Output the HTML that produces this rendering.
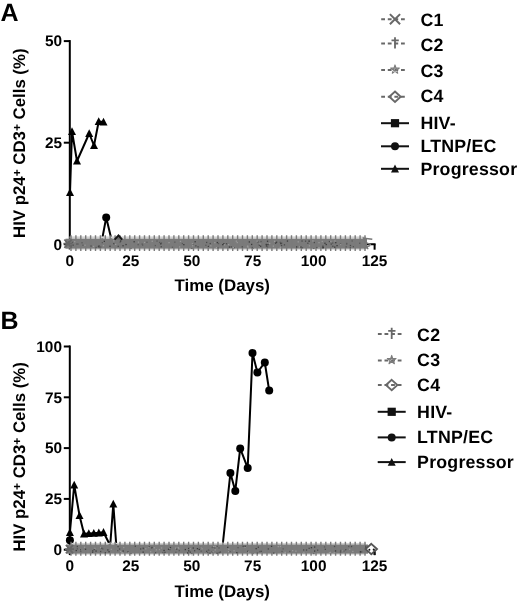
<!DOCTYPE html>
<html><head><meta charset="utf-8"><style>
html,body{margin:0;padding:0;background:#fff;}
svg{display:block;font-family:"Liberation Sans", sans-serif;will-change:transform;text-rendering:geometricPrecision;}
</style></head><body>
<svg width="520" height="608" viewBox="0 0 520 608" font-family='"Liberation Sans", sans-serif'>
<text x="0.5" y="21.4" font-size="25" font-weight="bold">A</text>
<path d="M69.8 40.10V244.30" stroke="#000" stroke-width="2" fill="none"/>
<path d="M63.8 244.30H70" stroke="#000" stroke-width="2"/>
<text x="62" y="249.50" font-size="15.4" font-weight="bold" text-anchor="end">0</text>
<path d="M63.8 142.70H70" stroke="#000" stroke-width="2"/>
<text x="62" y="147.90" font-size="15.4" font-weight="bold" text-anchor="end">25</text>
<path d="M63.8 41.10H70" stroke="#000" stroke-width="2"/>
<text x="62" y="46.30" font-size="15.4" font-weight="bold" text-anchor="end">50</text>
<path d="M69 244.30H375.60" stroke="#000" stroke-width="2" fill="none"/>
<path d="M69.80 244.30V249.70" stroke="#000" stroke-width="2"/>
<text x="69.80" y="265.7" font-size="15.4" font-weight="bold" text-anchor="middle">0</text>
<path d="M130.76 244.30V249.70" stroke="#000" stroke-width="2"/>
<text x="130.76" y="265.7" font-size="15.4" font-weight="bold" text-anchor="middle">25</text>
<path d="M191.72 244.30V249.70" stroke="#000" stroke-width="2"/>
<text x="191.72" y="265.7" font-size="15.4" font-weight="bold" text-anchor="middle">50</text>
<path d="M252.68 244.30V249.70" stroke="#000" stroke-width="2"/>
<text x="252.68" y="265.7" font-size="15.4" font-weight="bold" text-anchor="middle">75</text>
<path d="M313.64 244.30V249.70" stroke="#000" stroke-width="2"/>
<text x="313.64" y="265.7" font-size="15.4" font-weight="bold" text-anchor="middle">100</text>
<path d="M374.60 244.30V249.70" stroke="#000" stroke-width="2"/>
<text x="374.60" y="265.7" font-size="15.4" font-weight="bold" text-anchor="middle">125</text>
<text x="222.25" y="290.7" font-size="16.9" font-weight="bold" text-anchor="middle">Time (Days)</text>
<text transform="translate(24.8,143.2) rotate(-90)" font-size="16.8" font-weight="bold" text-anchor="middle">HIV p24<tspan font-size="12" dy="-3.8">+</tspan><tspan dy="3.8"> CD3</tspan><tspan font-size="12" dy="-3.8">+</tspan><tspan dy="3.8"> Cells (%)</tspan></text>
<path d="M381.20 19.20H405.00" stroke="#686868" stroke-width="2" stroke-dasharray="3.8 2.8"/>
<path d="M389.90 14.10L400.10 24.30M400.10 14.10L389.90 24.30" stroke="#686868" stroke-width="2" fill="none"/>
<text x="420.40" y="25.70" font-size="17.8" letter-spacing="0.2" font-weight="bold">C1</text>
<path d="M381.20 43.50H405.00" stroke="#686868" stroke-width="2" stroke-dasharray="3.8 2.8"/>
<path d="M395.00 37.20V48.50M391.50 40.30H398.80" stroke="#686868" stroke-width="1.8" fill="none"/>
<text x="420.40" y="50.80" font-size="17.8" letter-spacing="0.2" font-weight="bold">C2</text>
<path d="M381.20 69.90H405.00" stroke="#686868" stroke-width="2" stroke-dasharray="3.8 2.8"/>
<polygon points="395.00,64.90 397.70,73.22 390.63,68.08 399.37,68.08 392.30,73.22" fill="none" stroke="#7c7c7c" stroke-width="1.1" stroke-linejoin="round"/>
<text x="420.40" y="77.10" font-size="17.8" letter-spacing="0.2" font-weight="bold">C3</text>
<path d="M381.20 96.70H405.00" stroke="#686868" stroke-width="2" stroke-dasharray="3.8 2.8"/>
<path d="M395.00 91.50L400.70 96.70L395.00 101.90L389.30 96.70Z" fill="none" stroke="#686868" stroke-width="1.9"/>
<text x="420.40" y="102.40" font-size="17.8" letter-spacing="0.2" font-weight="bold">C4</text>
<path d="M381.00 123.20H409.00" stroke="#111" stroke-width="2"/>
<rect x="390.90" y="119.10" width="8.2" height="8.2" fill="#111"/>
<text x="420.40" y="129.10" font-size="17.8" letter-spacing="0.2" font-weight="bold">HIV-</text>
<path d="M381.00 146.30H409.00" stroke="#111" stroke-width="2"/>
<circle cx="395.00" cy="146.30" r="4" fill="#111"/>
<text x="420.40" y="152.40" font-size="17.8" letter-spacing="0.2" font-weight="bold">LTNP/EC</text>
<path d="M381.00 168.80H409.00" stroke="#111" stroke-width="2"/>
<path d="M395.00 164.60 L399.00 172.40 L391.00 172.40Z" fill="#111"/>
<text x="420.40" y="175.40" font-size="17.8" letter-spacing="0.2" font-weight="bold">Progressor</text>
<text x="0.5" y="329.2" font-size="25" font-weight="bold">B</text>
<path d="M69.8 345.50V549.70" stroke="#000" stroke-width="2" fill="none"/>
<path d="M63.8 549.70H70" stroke="#000" stroke-width="2"/>
<text x="62" y="554.90" font-size="15.4" font-weight="bold" text-anchor="end">0</text>
<path d="M63.8 498.90H70" stroke="#000" stroke-width="2"/>
<text x="62" y="504.10" font-size="15.4" font-weight="bold" text-anchor="end">25</text>
<path d="M63.8 448.10H70" stroke="#000" stroke-width="2"/>
<text x="62" y="453.30" font-size="15.4" font-weight="bold" text-anchor="end">50</text>
<path d="M63.8 397.30H70" stroke="#000" stroke-width="2"/>
<text x="62" y="402.50" font-size="15.4" font-weight="bold" text-anchor="end">75</text>
<path d="M63.8 346.50H70" stroke="#000" stroke-width="2"/>
<text x="62" y="351.70" font-size="15.4" font-weight="bold" text-anchor="end">100</text>
<path d="M69 549.70H375.60" stroke="#000" stroke-width="2" fill="none"/>
<path d="M69.80 549.70V555.10" stroke="#000" stroke-width="2"/>
<text x="69.80" y="570.8" font-size="15.4" font-weight="bold" text-anchor="middle">0</text>
<path d="M130.76 549.70V555.10" stroke="#000" stroke-width="2"/>
<text x="130.76" y="570.8" font-size="15.4" font-weight="bold" text-anchor="middle">25</text>
<path d="M191.72 549.70V555.10" stroke="#000" stroke-width="2"/>
<text x="191.72" y="570.8" font-size="15.4" font-weight="bold" text-anchor="middle">50</text>
<path d="M252.68 549.70V555.10" stroke="#000" stroke-width="2"/>
<text x="252.68" y="570.8" font-size="15.4" font-weight="bold" text-anchor="middle">75</text>
<path d="M313.64 549.70V555.10" stroke="#000" stroke-width="2"/>
<text x="313.64" y="570.8" font-size="15.4" font-weight="bold" text-anchor="middle">100</text>
<path d="M374.60 549.70V555.10" stroke="#000" stroke-width="2"/>
<text x="374.60" y="570.8" font-size="15.4" font-weight="bold" text-anchor="middle">125</text>
<text x="222.25" y="597.2" font-size="16.9" font-weight="bold" text-anchor="middle">Time (Days)</text>
<text transform="translate(25.0,456.9) rotate(-90)" font-size="16.8" font-weight="bold" text-anchor="middle">HIV p24<tspan font-size="12" dy="-3.8">+</tspan><tspan dy="3.8"> CD3</tspan><tspan font-size="12" dy="-3.8">+</tspan><tspan dy="3.8"> Cells (%)</tspan></text>
<path d="M377.90 334.10H401.70" stroke="#686868" stroke-width="2" stroke-dasharray="3.8 2.8"/>
<path d="M391.70 327.80V339.10M388.20 330.90H395.50" stroke="#686868" stroke-width="1.8" fill="none"/>
<text x="417.10" y="341.10" font-size="17.8" letter-spacing="0.2" font-weight="bold">C2</text>
<path d="M377.90 360.40H401.70" stroke="#686868" stroke-width="2" stroke-dasharray="3.8 2.8"/>
<polygon points="391.70,355.40 394.40,363.72 387.33,358.58 396.07,358.58 389.00,363.72" fill="none" stroke="#7c7c7c" stroke-width="1.1" stroke-linejoin="round"/>
<text x="417.10" y="366.10" font-size="17.8" letter-spacing="0.2" font-weight="bold">C3</text>
<path d="M377.90 385.10H401.70" stroke="#686868" stroke-width="2" stroke-dasharray="3.8 2.8"/>
<path d="M391.70 379.90L397.40 385.10L391.70 390.30L386.00 385.10Z" fill="none" stroke="#686868" stroke-width="1.9"/>
<text x="417.10" y="390.80" font-size="17.8" letter-spacing="0.2" font-weight="bold">C4</text>
<path d="M377.70 411.80H405.70" stroke="#111" stroke-width="2"/>
<rect x="387.60" y="407.70" width="8.2" height="8.2" fill="#111"/>
<text x="417.10" y="418.40" font-size="17.8" letter-spacing="0.2" font-weight="bold">HIV-</text>
<path d="M377.70 437.40H405.70" stroke="#111" stroke-width="2"/>
<circle cx="391.70" cy="437.40" r="4" fill="#111"/>
<text x="417.10" y="443.10" font-size="17.8" letter-spacing="0.2" font-weight="bold">LTNP/EC</text>
<path d="M377.70 462.10H405.70" stroke="#111" stroke-width="2"/>
<path d="M391.70 457.90 L395.70 465.70 L387.70 465.70Z" fill="#111"/>
<text x="417.10" y="467.80" font-size="17.8" letter-spacing="0.2" font-weight="bold">Progressor</text>
<polyline points="70,192.5 72,131.5 77,161 89.2,133.5 94,145.5 98.7,121.5 103.5,122" fill="none" stroke="#000" stroke-width="2" stroke-linejoin="round"/>
<path d="M70.00 188.30 L74.00 196.10 L66.00 196.10Z" fill="#000"/>
<path d="M72.00 127.30 L76.00 135.10 L68.00 135.10Z" fill="#000"/>
<path d="M77.00 156.80 L81.00 164.60 L73.00 164.60Z" fill="#000"/>
<path d="M89.20 129.30 L93.20 137.10 L85.20 137.10Z" fill="#000"/>
<path d="M94.00 141.30 L98.00 149.10 L90.00 149.10Z" fill="#000"/>
<path d="M98.70 117.30 L102.70 125.10 L94.70 125.10Z" fill="#000"/>
<path d="M103.50 117.80 L107.50 125.60 L99.50 125.60Z" fill="#000"/>
<polyline points="102,240 106.2,217.6 111.6,240" fill="none" stroke="#000" stroke-width="2"/>
<circle cx="106.20" cy="217.60" r="4" fill="#000"/>
<polyline points="69.9,532.5 74.2,485.0 79.5,515.4 84.0,533.8 88.8,533.5 93.8,533.2 98.8,532.8 103.5,532.3 110.2,545.5 113.3,504 116.3,545.5" fill="none" stroke="#000" stroke-width="2" stroke-linejoin="round"/>
<path d="M69.90 528.30 L73.90 536.10 L65.90 536.10Z" fill="#000"/>
<path d="M74.20 480.80 L78.20 488.60 L70.20 488.60Z" fill="#000"/>
<path d="M79.50 511.20 L83.50 519.00 L75.50 519.00Z" fill="#000"/>
<path d="M84.00 529.60 L88.00 537.40 L80.00 537.40Z" fill="#000"/>
<path d="M88.80 529.30 L92.80 537.10 L84.80 537.10Z" fill="#000"/>
<path d="M93.80 529.00 L97.80 536.80 L89.80 536.80Z" fill="#000"/>
<path d="M98.80 528.60 L102.80 536.40 L94.80 536.40Z" fill="#000"/>
<path d="M103.50 528.10 L107.50 535.90 L99.50 535.90Z" fill="#000"/>
<path d="M113.30 499.80 L117.30 507.60 L109.30 507.60Z" fill="#000"/>
<circle cx="69.90" cy="540.20" r="4" fill="#000"/>
<polyline points="222.8,544 230.4,473.1 235.3,490.9 240.2,448.4 247.7,468.1 252.5,353.1 257.4,372.4 264.8,362.5 269.2,390.6" fill="none" stroke="#000" stroke-width="2" stroke-linejoin="round"/>
<circle cx="230.40" cy="473.10" r="4" fill="#000"/>
<circle cx="235.30" cy="490.90" r="4" fill="#000"/>
<circle cx="240.20" cy="448.40" r="4" fill="#000"/>
<circle cx="247.70" cy="468.10" r="4" fill="#000"/>
<circle cx="252.50" cy="353.10" r="4" fill="#000"/>
<circle cx="257.40" cy="372.40" r="4" fill="#000"/>
<circle cx="264.80" cy="362.50" r="4" fill="#000"/>
<circle cx="269.20" cy="390.60" r="4" fill="#000"/>
<rect x="69.5" y="236.40" width="296.50" height="2.30" fill="#d2d2d2"/>
<rect x="69.5" y="248.70" width="296.50" height="1.40" fill="#dcdcdc"/>
<rect x="65.5" y="238.70" width="301.50" height="10.0" fill="#7b7b7b"/>
<path d="M71.00 235.20V250.90M75.90 235.20V250.90M80.80 235.20V250.90M85.70 235.20V250.90M90.60 235.20V250.90M95.50 235.20V250.90M100.40 235.20V250.90M105.30 235.20V250.90M110.20 235.20V250.90M115.10 235.20V250.90M120.00 235.20V250.90M124.90 235.20V250.90M129.80 235.20V250.90M134.70 235.20V250.90M139.60 235.20V250.90M144.50 235.20V250.90M149.40 235.20V250.90M154.30 235.20V250.90M159.20 235.20V250.90M164.10 235.20V250.90M169.00 235.20V250.90M173.90 235.20V250.90M178.80 235.20V250.90M183.70 235.20V250.90M188.60 235.20V250.90M193.50 235.20V250.90M198.40 235.20V250.90M203.30 235.20V250.90M208.20 235.20V250.90M213.10 235.20V250.90M218.00 235.20V250.90M222.90 235.20V250.90M227.80 235.20V250.90M232.70 235.20V250.90M237.60 235.20V250.90M242.50 235.20V250.90M247.40 235.20V250.90M252.30 235.20V250.90M257.20 235.20V250.90M262.10 235.20V250.90M267.00 235.20V250.90M271.90 235.20V250.90M276.80 235.20V250.90M281.70 235.20V250.90M286.60 235.20V250.90M291.50 235.20V250.90M296.40 235.20V250.90M301.30 235.20V250.90M306.20 235.20V250.90M311.10 235.20V250.90M316.00 235.20V250.90M320.90 235.20V250.90M325.80 235.20V250.90M330.70 235.20V250.90M335.60 235.20V250.90M340.50 235.20V250.90M345.40 235.20V250.90M350.30 235.20V250.90M355.20 235.20V250.90M360.10 235.20V250.90M365.00 235.20V250.90" stroke="#7a7a7a" stroke-width="1.4"/>
<rect x="137.5" y="244.0" width="1.3" height="1.3" fill="#5a5a5a"/><rect x="339.9" y="243.5" width="1.3" height="1.3" fill="#3a3a3a"/><rect x="247.3" y="246.6" width="1.3" height="1.3" fill="#9a9a9a"/><rect x="143.9" y="241.8" width="1.3" height="1.3" fill="#9a9a9a"/><rect x="228.0" y="244.0" width="1.3" height="1.3" fill="#9a9a9a"/><rect x="257.3" y="241.3" width="1.3" height="1.3" fill="#4a4a4a"/><rect x="325.6" y="243.9" width="1.3" height="1.3" fill="#3a3a3a"/><rect x="266.9" y="240.6" width="1.3" height="1.3" fill="#3a3a3a"/><rect x="156.4" y="240.4" width="1.3" height="1.3" fill="#5a5a5a"/><rect x="207.6" y="245.2" width="1.3" height="1.3" fill="#9a9a9a"/><rect x="279.7" y="246.6" width="1.3" height="1.3" fill="#9a9a9a"/><rect x="283.8" y="244.2" width="1.3" height="1.3" fill="#4a4a4a"/><rect x="328.8" y="240.9" width="1.3" height="1.3" fill="#4a4a4a"/><rect x="214.2" y="242.0" width="1.3" height="1.3" fill="#9a9a9a"/><rect x="299.0" y="246.2" width="1.3" height="1.3" fill="#9a9a9a"/><rect x="217.9" y="242.9" width="1.3" height="1.3" fill="#5a5a5a"/><rect x="225.9" y="243.1" width="1.3" height="1.3" fill="#4a4a4a"/><rect x="336.4" y="245.0" width="1.3" height="1.3" fill="#3a3a3a"/><rect x="322.1" y="247.1" width="1.3" height="1.3" fill="#4a4a4a"/><rect x="275.0" y="242.5" width="1.3" height="1.3" fill="#3a3a3a"/><rect x="279.6" y="241.7" width="1.3" height="1.3" fill="#5a5a5a"/><rect x="151.6" y="240.6" width="1.3" height="1.3" fill="#9a9a9a"/><rect x="92.9" y="245.8" width="1.3" height="1.3" fill="#9a9a9a"/><rect x="334.3" y="240.3" width="1.3" height="1.3" fill="#9a9a9a"/><rect x="296.0" y="246.3" width="1.3" height="1.3" fill="#3a3a3a"/><rect x="247.1" y="245.5" width="1.3" height="1.3" fill="#9a9a9a"/><rect x="281.0" y="242.5" width="1.3" height="1.3" fill="#5a5a5a"/><rect x="217.4" y="247.2" width="1.3" height="1.3" fill="#5a5a5a"/><rect x="68.7" y="241.0" width="1.3" height="1.3" fill="#3a3a3a"/><rect x="349.7" y="247.0" width="1.3" height="1.3" fill="#5a5a5a"/><rect x="248.7" y="241.3" width="1.3" height="1.3" fill="#3a3a3a"/><rect x="359.0" y="242.6" width="1.3" height="1.3" fill="#5a5a5a"/><rect x="352.7" y="246.5" width="1.3" height="1.3" fill="#9a9a9a"/><rect x="179.0" y="246.3" width="1.3" height="1.3" fill="#9a9a9a"/><rect x="258.7" y="244.4" width="1.3" height="1.3" fill="#3a3a3a"/><rect x="251.6" y="246.8" width="1.3" height="1.3" fill="#5a5a5a"/><rect x="195.2" y="245.2" width="1.3" height="1.3" fill="#4a4a4a"/><rect x="346.0" y="243.3" width="1.3" height="1.3" fill="#5a5a5a"/><rect x="222.1" y="244.0" width="1.3" height="1.3" fill="#3a3a3a"/><rect x="301.8" y="247.1" width="1.3" height="1.3" fill="#5a5a5a"/><rect x="72.5" y="244.5" width="1.3" height="1.3" fill="#4a4a4a"/><rect x="84.4" y="244.6" width="1.3" height="1.3" fill="#9a9a9a"/><rect x="171.8" y="246.6" width="1.3" height="1.3" fill="#5a5a5a"/><rect x="286.8" y="240.4" width="1.3" height="1.3" fill="#3a3a3a"/><rect x="351.5" y="240.3" width="1.3" height="1.3" fill="#5a5a5a"/><rect x="141.5" y="243.4" width="1.3" height="1.3" fill="#5a5a5a"/><rect x="119.5" y="241.5" width="1.3" height="1.3" fill="#5a5a5a"/><rect x="318.4" y="242.0" width="1.3" height="1.3" fill="#9a9a9a"/><rect x="97.8" y="245.9" width="1.3" height="1.3" fill="#4a4a4a"/><rect x="159.0" y="241.8" width="1.3" height="1.3" fill="#5a5a5a"/><rect x="137.8" y="241.5" width="1.3" height="1.3" fill="#9a9a9a"/><rect x="260.4" y="240.9" width="1.3" height="1.3" fill="#5a5a5a"/><rect x="349.8" y="244.9" width="1.3" height="1.3" fill="#4a4a4a"/><rect x="197.4" y="246.2" width="1.3" height="1.3" fill="#4a4a4a"/><rect x="90.4" y="245.4" width="1.3" height="1.3" fill="#4a4a4a"/><rect x="330.6" y="243.4" width="1.3" height="1.3" fill="#4a4a4a"/><rect x="301.4" y="240.4" width="1.3" height="1.3" fill="#4a4a4a"/><rect x="160.6" y="246.1" width="1.3" height="1.3" fill="#4a4a4a"/><rect x="324.3" y="242.6" width="1.3" height="1.3" fill="#3a3a3a"/><rect x="307.2" y="242.6" width="1.3" height="1.3" fill="#4a4a4a"/><rect x="192.2" y="243.8" width="1.3" height="1.3" fill="#5a5a5a"/><rect x="205.2" y="244.6" width="1.3" height="1.3" fill="#5a5a5a"/><rect x="191.8" y="243.1" width="1.3" height="1.3" fill="#9a9a9a"/><rect x="113.1" y="240.2" width="1.3" height="1.3" fill="#9a9a9a"/><rect x="233.3" y="247.1" width="1.3" height="1.3" fill="#4a4a4a"/><rect x="76.1" y="243.4" width="1.3" height="1.3" fill="#5a5a5a"/><rect x="228.8" y="246.4" width="1.3" height="1.3" fill="#3a3a3a"/><rect x="322.6" y="247.0" width="1.3" height="1.3" fill="#3a3a3a"/><rect x="308.3" y="240.5" width="1.3" height="1.3" fill="#4a4a4a"/><rect x="334.1" y="246.5" width="1.3" height="1.3" fill="#3a3a3a"/><rect x="70.4" y="245.4" width="1.3" height="1.3" fill="#4a4a4a"/><rect x="216.7" y="241.9" width="1.3" height="1.3" fill="#3a3a3a"/><rect x="223.2" y="243.1" width="1.3" height="1.3" fill="#3a3a3a"/><rect x="168.4" y="242.0" width="1.3" height="1.3" fill="#9a9a9a"/><rect x="308.7" y="240.6" width="1.3" height="1.3" fill="#4a4a4a"/><rect x="125.4" y="243.9" width="1.3" height="1.3" fill="#3a3a3a"/><rect x="117.6" y="245.7" width="1.3" height="1.3" fill="#4a4a4a"/><rect x="312.3" y="240.3" width="1.3" height="1.3" fill="#9a9a9a"/><rect x="81.4" y="242.1" width="1.3" height="1.3" fill="#5a5a5a"/><rect x="251.0" y="243.8" width="1.3" height="1.3" fill="#3a3a3a"/><rect x="207.7" y="245.6" width="1.3" height="1.3" fill="#3a3a3a"/><rect x="322.3" y="245.6" width="1.3" height="1.3" fill="#3a3a3a"/><rect x="103.7" y="240.7" width="1.3" height="1.3" fill="#3a3a3a"/><rect x="321.6" y="240.8" width="1.3" height="1.3" fill="#9a9a9a"/><rect x="160.8" y="242.4" width="1.3" height="1.3" fill="#5a5a5a"/><rect x="181.7" y="242.9" width="1.3" height="1.3" fill="#5a5a5a"/><rect x="174.2" y="241.5" width="1.3" height="1.3" fill="#5a5a5a"/><rect x="194.5" y="241.1" width="1.3" height="1.3" fill="#3a3a3a"/><rect x="280.2" y="242.9" width="1.3" height="1.3" fill="#3a3a3a"/><rect x="235.7" y="240.5" width="1.3" height="1.3" fill="#9a9a9a"/><rect x="246.9" y="245.7" width="1.3" height="1.3" fill="#9a9a9a"/><rect x="256.5" y="240.5" width="1.3" height="1.3" fill="#9a9a9a"/><rect x="82.3" y="244.6" width="1.3" height="1.3" fill="#5a5a5a"/><rect x="192.0" y="245.1" width="1.3" height="1.3" fill="#9a9a9a"/><rect x="71.9" y="241.7" width="1.3" height="1.3" fill="#5a5a5a"/><rect x="274.0" y="240.7" width="1.3" height="1.3" fill="#9a9a9a"/><rect x="133.5" y="241.1" width="1.3" height="1.3" fill="#3a3a3a"/><rect x="346.0" y="242.8" width="1.3" height="1.3" fill="#5a5a5a"/><rect x="102.8" y="245.0" width="1.3" height="1.3" fill="#9a9a9a"/><rect x="265.8" y="245.3" width="1.3" height="1.3" fill="#3a3a3a"/><rect x="308.8" y="245.2" width="1.3" height="1.3" fill="#9a9a9a"/><rect x="109.3" y="245.6" width="1.3" height="1.3" fill="#3a3a3a"/><rect x="223.9" y="244.2" width="1.3" height="1.3" fill="#9a9a9a"/><rect x="120.0" y="240.4" width="1.3" height="1.3" fill="#3a3a3a"/><rect x="74.1" y="241.0" width="1.3" height="1.3" fill="#9a9a9a"/><rect x="316.1" y="246.9" width="1.3" height="1.3" fill="#5a5a5a"/><rect x="304.9" y="240.5" width="1.3" height="1.3" fill="#4a4a4a"/><rect x="98.4" y="245.4" width="1.3" height="1.3" fill="#3a3a3a"/><rect x="230.7" y="246.3" width="1.3" height="1.3" fill="#4a4a4a"/><rect x="313.7" y="241.9" width="1.3" height="1.3" fill="#4a4a4a"/><rect x="259.3" y="243.4" width="1.3" height="1.3" fill="#9a9a9a"/><rect x="142.0" y="244.4" width="1.3" height="1.3" fill="#5a5a5a"/><rect x="232.7" y="247.0" width="1.3" height="1.3" fill="#9a9a9a"/><rect x="215.8" y="247.0" width="1.3" height="1.3" fill="#9a9a9a"/><rect x="318.3" y="247.0" width="1.3" height="1.3" fill="#9a9a9a"/><rect x="272.7" y="245.5" width="1.3" height="1.3" fill="#9a9a9a"/><rect x="113.1" y="243.0" width="1.3" height="1.3" fill="#4a4a4a"/><rect x="115.0" y="243.7" width="1.3" height="1.3" fill="#9a9a9a"/><rect x="340.1" y="243.8" width="1.3" height="1.3" fill="#9a9a9a"/><rect x="241.6" y="246.2" width="1.3" height="1.3" fill="#4a4a4a"/><rect x="146.3" y="241.6" width="1.3" height="1.3" fill="#5a5a5a"/><rect x="345.5" y="246.2" width="1.3" height="1.3" fill="#5a5a5a"/><rect x="266.9" y="246.2" width="1.3" height="1.3" fill="#5a5a5a"/><rect x="332.0" y="242.4" width="1.3" height="1.3" fill="#5a5a5a"/><rect x="209.6" y="242.9" width="1.3" height="1.3" fill="#4a4a4a"/><rect x="236.6" y="241.9" width="1.3" height="1.3" fill="#9a9a9a"/><rect x="297.6" y="241.2" width="1.3" height="1.3" fill="#9a9a9a"/><rect x="275.9" y="241.6" width="1.3" height="1.3" fill="#3a3a3a"/><rect x="210.2" y="245.2" width="1.3" height="1.3" fill="#9a9a9a"/><rect x="300.3" y="246.4" width="1.3" height="1.3" fill="#3a3a3a"/><rect x="206.0" y="241.8" width="1.3" height="1.3" fill="#4a4a4a"/><rect x="260.0" y="245.6" width="1.3" height="1.3" fill="#3a3a3a"/><rect x="352.7" y="246.2" width="1.3" height="1.3" fill="#4a4a4a"/><rect x="332.2" y="245.6" width="1.3" height="1.3" fill="#4a4a4a"/><rect x="122.4" y="245.1" width="1.3" height="1.3" fill="#3a3a3a"/><rect x="335.1" y="242.0" width="1.3" height="1.3" fill="#3a3a3a"/><rect x="160.1" y="243.2" width="1.3" height="1.3" fill="#3a3a3a"/><rect x="101.7" y="242.0" width="1.3" height="1.3" fill="#5a5a5a"/><rect x="77.3" y="243.4" width="1.3" height="1.3" fill="#5a5a5a"/><rect x="68.6" y="242.5" width="1.3" height="1.3" fill="#9a9a9a"/><rect x="179.8" y="240.7" width="1.3" height="1.3" fill="#9a9a9a"/><rect x="183.2" y="244.0" width="1.3" height="1.3" fill="#3a3a3a"/><rect x="330.2" y="240.7" width="1.3" height="1.3" fill="#9a9a9a"/><rect x="100.1" y="246.4" width="1.3" height="1.3" fill="#5a5a5a"/><rect x="95.4" y="246.8" width="1.3" height="1.3" fill="#5a5a5a"/><rect x="269.0" y="242.8" width="1.3" height="1.3" fill="#9a9a9a"/><rect x="154.7" y="244.9" width="1.3" height="1.3" fill="#5a5a5a"/><rect x="98.5" y="246.8" width="1.3" height="1.3" fill="#5a5a5a"/><rect x="267.3" y="244.0" width="1.3" height="1.3" fill="#3a3a3a"/><rect x="265.6" y="243.8" width="1.3" height="1.3" fill="#3a3a3a"/><rect x="280.9" y="244.9" width="1.3" height="1.3" fill="#4a4a4a"/>
<path d="M63.50 243.70H72.50M64.40 239.50L71.60 247.90M64.40 247.90L71.60 239.50" stroke="#666" stroke-width="1.8"/>
<path d="M364.00 238.20L372.30 239.20M364.00 248.20L370.00 245.70M363.00 237.20L368.00 249.20M366.00 242.70L371.00 244.70" stroke="#777" stroke-width="1.4"/>
<rect x="71.0" y="542.90" width="295.00" height="1.60" fill="#d2d2d2"/>
<rect x="71.0" y="553.70" width="295.00" height="1.20" fill="#dcdcdc"/>
<rect x="67.0" y="544.50" width="301.00" height="9.2" fill="#7b7b7b"/>
<path d="M71.00 541.70V555.70M75.90 541.70V555.70M80.80 541.70V555.70M85.70 541.70V555.70M90.60 541.70V555.70M95.50 541.70V555.70M100.40 541.70V555.70M105.30 541.70V555.70M110.20 541.70V555.70M115.10 541.70V555.70M120.00 541.70V555.70M124.90 541.70V555.70M129.80 541.70V555.70M134.70 541.70V555.70M139.60 541.70V555.70M144.50 541.70V555.70M149.40 541.70V555.70M154.30 541.70V555.70M159.20 541.70V555.70M164.10 541.70V555.70M169.00 541.70V555.70M173.90 541.70V555.70M178.80 541.70V555.70M183.70 541.70V555.70M188.60 541.70V555.70M193.50 541.70V555.70M198.40 541.70V555.70M203.30 541.70V555.70M208.20 541.70V555.70M213.10 541.70V555.70M218.00 541.70V555.70M222.90 541.70V555.70M227.80 541.70V555.70M232.70 541.70V555.70M237.60 541.70V555.70M242.50 541.70V555.70M247.40 541.70V555.70M252.30 541.70V555.70M257.20 541.70V555.70M262.10 541.70V555.70M267.00 541.70V555.70M271.90 541.70V555.70M276.80 541.70V555.70M281.70 541.70V555.70M286.60 541.70V555.70M291.50 541.70V555.70M296.40 541.70V555.70M301.30 541.70V555.70M306.20 541.70V555.70M311.10 541.70V555.70M316.00 541.70V555.70M320.90 541.70V555.70M325.80 541.70V555.70M330.70 541.70V555.70M335.60 541.70V555.70M340.50 541.70V555.70M345.40 541.70V555.70M350.30 541.70V555.70M355.20 541.70V555.70M360.10 541.70V555.70M365.00 541.70V555.70" stroke="#7a7a7a" stroke-width="1.4"/>
<rect x="260.5" y="550.7" width="1.3" height="1.3" fill="#4a4a4a"/><rect x="121.4" y="551.8" width="1.3" height="1.3" fill="#9a9a9a"/><rect x="104.7" y="552.1" width="1.3" height="1.3" fill="#4a4a4a"/><rect x="342.4" y="550.1" width="1.3" height="1.3" fill="#9a9a9a"/><rect x="233.4" y="550.1" width="1.3" height="1.3" fill="#9a9a9a"/><rect x="211.7" y="551.1" width="1.3" height="1.3" fill="#3a3a3a"/><rect x="100.0" y="546.9" width="1.3" height="1.3" fill="#9a9a9a"/><rect x="175.0" y="547.5" width="1.3" height="1.3" fill="#9a9a9a"/><rect x="83.9" y="546.6" width="1.3" height="1.3" fill="#9a9a9a"/><rect x="218.4" y="547.3" width="1.3" height="1.3" fill="#5a5a5a"/><rect x="328.8" y="552.2" width="1.3" height="1.3" fill="#9a9a9a"/><rect x="229.4" y="551.0" width="1.3" height="1.3" fill="#5a5a5a"/><rect x="216.4" y="552.6" width="1.3" height="1.3" fill="#4a4a4a"/><rect x="148.6" y="546.3" width="1.3" height="1.3" fill="#3a3a3a"/><rect x="236.2" y="552.0" width="1.3" height="1.3" fill="#3a3a3a"/><rect x="123.1" y="546.9" width="1.3" height="1.3" fill="#9a9a9a"/><rect x="267.7" y="548.3" width="1.3" height="1.3" fill="#4a4a4a"/><rect x="244.4" y="546.6" width="1.3" height="1.3" fill="#9a9a9a"/><rect x="305.9" y="549.4" width="1.3" height="1.3" fill="#4a4a4a"/><rect x="237.4" y="547.0" width="1.3" height="1.3" fill="#5a5a5a"/><rect x="178.1" y="547.7" width="1.3" height="1.3" fill="#9a9a9a"/><rect x="333.6" y="552.2" width="1.3" height="1.3" fill="#9a9a9a"/><rect x="162.2" y="551.9" width="1.3" height="1.3" fill="#5a5a5a"/><rect x="256.8" y="552.4" width="1.3" height="1.3" fill="#5a5a5a"/><rect x="334.9" y="550.3" width="1.3" height="1.3" fill="#3a3a3a"/><rect x="247.2" y="550.7" width="1.3" height="1.3" fill="#3a3a3a"/><rect x="100.0" y="550.9" width="1.3" height="1.3" fill="#4a4a4a"/><rect x="214.6" y="549.3" width="1.3" height="1.3" fill="#9a9a9a"/><rect x="127.3" y="551.1" width="1.3" height="1.3" fill="#4a4a4a"/><rect x="79.0" y="549.1" width="1.3" height="1.3" fill="#9a9a9a"/><rect x="101.2" y="547.6" width="1.3" height="1.3" fill="#4a4a4a"/><rect x="108.4" y="551.1" width="1.3" height="1.3" fill="#3a3a3a"/><rect x="75.6" y="549.9" width="1.3" height="1.3" fill="#3a3a3a"/><rect x="216.6" y="545.7" width="1.3" height="1.3" fill="#5a5a5a"/><rect x="164.3" y="551.7" width="1.3" height="1.3" fill="#4a4a4a"/><rect x="92.0" y="551.5" width="1.3" height="1.3" fill="#3a3a3a"/><rect x="281.4" y="550.8" width="1.3" height="1.3" fill="#5a5a5a"/><rect x="365.4" y="547.0" width="1.3" height="1.3" fill="#3a3a3a"/><rect x="324.7" y="548.7" width="1.3" height="1.3" fill="#4a4a4a"/><rect x="212.5" y="546.4" width="1.3" height="1.3" fill="#3a3a3a"/><rect x="189.7" y="551.5" width="1.3" height="1.3" fill="#4a4a4a"/><rect x="184.7" y="548.9" width="1.3" height="1.3" fill="#3a3a3a"/><rect x="228.2" y="548.6" width="1.3" height="1.3" fill="#9a9a9a"/><rect x="158.8" y="548.9" width="1.3" height="1.3" fill="#9a9a9a"/><rect x="198.6" y="548.8" width="1.3" height="1.3" fill="#3a3a3a"/><rect x="282.5" y="548.2" width="1.3" height="1.3" fill="#5a5a5a"/><rect x="201.4" y="548.1" width="1.3" height="1.3" fill="#9a9a9a"/><rect x="134.7" y="545.6" width="1.3" height="1.3" fill="#4a4a4a"/><rect x="145.1" y="548.2" width="1.3" height="1.3" fill="#9a9a9a"/><rect x="227.1" y="546.7" width="1.3" height="1.3" fill="#3a3a3a"/><rect x="118.9" y="548.4" width="1.3" height="1.3" fill="#4a4a4a"/><rect x="257.7" y="546.6" width="1.3" height="1.3" fill="#4a4a4a"/><rect x="199.9" y="546.9" width="1.3" height="1.3" fill="#3a3a3a"/><rect x="188.1" y="547.8" width="1.3" height="1.3" fill="#3a3a3a"/><rect x="277.6" y="546.0" width="1.3" height="1.3" fill="#9a9a9a"/><rect x="79.7" y="549.1" width="1.3" height="1.3" fill="#4a4a4a"/><rect x="140.0" y="548.3" width="1.3" height="1.3" fill="#4a4a4a"/><rect x="117.1" y="550.0" width="1.3" height="1.3" fill="#5a5a5a"/><rect x="340.0" y="549.8" width="1.3" height="1.3" fill="#5a5a5a"/><rect x="150.0" y="551.1" width="1.3" height="1.3" fill="#9a9a9a"/><rect x="303.2" y="552.3" width="1.3" height="1.3" fill="#9a9a9a"/><rect x="142.5" y="547.5" width="1.3" height="1.3" fill="#5a5a5a"/><rect x="255.5" y="548.0" width="1.3" height="1.3" fill="#3a3a3a"/><rect x="84.9" y="548.6" width="1.3" height="1.3" fill="#3a3a3a"/><rect x="244.5" y="545.6" width="1.3" height="1.3" fill="#3a3a3a"/><rect x="270.9" y="545.7" width="1.3" height="1.3" fill="#3a3a3a"/><rect x="211.6" y="546.9" width="1.3" height="1.3" fill="#5a5a5a"/><rect x="127.8" y="552.4" width="1.3" height="1.3" fill="#9a9a9a"/><rect x="169.3" y="549.0" width="1.3" height="1.3" fill="#5a5a5a"/><rect x="348.1" y="545.8" width="1.3" height="1.3" fill="#5a5a5a"/><rect x="292.0" y="550.0" width="1.3" height="1.3" fill="#9a9a9a"/><rect x="94.2" y="547.7" width="1.3" height="1.3" fill="#9a9a9a"/><rect x="102.2" y="548.3" width="1.3" height="1.3" fill="#5a5a5a"/><rect x="227.9" y="551.0" width="1.3" height="1.3" fill="#9a9a9a"/><rect x="120.0" y="550.8" width="1.3" height="1.3" fill="#9a9a9a"/><rect x="317.0" y="549.5" width="1.3" height="1.3" fill="#4a4a4a"/><rect x="176.1" y="548.5" width="1.3" height="1.3" fill="#4a4a4a"/><rect x="200.5" y="550.5" width="1.3" height="1.3" fill="#5a5a5a"/><rect x="148.3" y="546.8" width="1.3" height="1.3" fill="#9a9a9a"/><rect x="350.9" y="545.9" width="1.3" height="1.3" fill="#4a4a4a"/><rect x="279.8" y="545.8" width="1.3" height="1.3" fill="#9a9a9a"/><rect x="95.4" y="550.4" width="1.3" height="1.3" fill="#3a3a3a"/><rect x="163.4" y="549.8" width="1.3" height="1.3" fill="#3a3a3a"/><rect x="329.8" y="551.7" width="1.3" height="1.3" fill="#9a9a9a"/><rect x="207.0" y="551.7" width="1.3" height="1.3" fill="#5a5a5a"/><rect x="365.1" y="545.6" width="1.3" height="1.3" fill="#4a4a4a"/><rect x="187.0" y="552.3" width="1.3" height="1.3" fill="#3a3a3a"/><rect x="168.9" y="547.8" width="1.3" height="1.3" fill="#9a9a9a"/><rect x="92.1" y="550.1" width="1.3" height="1.3" fill="#4a4a4a"/><rect x="273.1" y="552.4" width="1.3" height="1.3" fill="#4a4a4a"/><rect x="242.5" y="545.7" width="1.3" height="1.3" fill="#4a4a4a"/><rect x="153.7" y="547.1" width="1.3" height="1.3" fill="#9a9a9a"/><rect x="218.5" y="552.0" width="1.3" height="1.3" fill="#5a5a5a"/><rect x="303.0" y="549.3" width="1.3" height="1.3" fill="#4a4a4a"/><rect x="207.3" y="550.0" width="1.3" height="1.3" fill="#3a3a3a"/><rect x="314.0" y="546.4" width="1.3" height="1.3" fill="#3a3a3a"/><rect x="323.9" y="546.3" width="1.3" height="1.3" fill="#5a5a5a"/><rect x="93.6" y="548.9" width="1.3" height="1.3" fill="#4a4a4a"/><rect x="314.0" y="550.4" width="1.3" height="1.3" fill="#3a3a3a"/><rect x="259.3" y="550.9" width="1.3" height="1.3" fill="#5a5a5a"/><rect x="188.1" y="550.2" width="1.3" height="1.3" fill="#3a3a3a"/><rect x="155.0" y="552.2" width="1.3" height="1.3" fill="#9a9a9a"/><rect x="310.8" y="547.0" width="1.3" height="1.3" fill="#3a3a3a"/><rect x="206.3" y="550.7" width="1.3" height="1.3" fill="#3a3a3a"/><rect x="169.8" y="546.9" width="1.3" height="1.3" fill="#3a3a3a"/><rect x="343.3" y="550.4" width="1.3" height="1.3" fill="#5a5a5a"/><rect x="194.0" y="550.1" width="1.3" height="1.3" fill="#4a4a4a"/><rect x="142.5" y="551.5" width="1.3" height="1.3" fill="#3a3a3a"/><rect x="167.9" y="548.6" width="1.3" height="1.3" fill="#3a3a3a"/><rect x="142.8" y="547.9" width="1.3" height="1.3" fill="#4a4a4a"/><rect x="284.5" y="551.7" width="1.3" height="1.3" fill="#9a9a9a"/><rect x="345.5" y="549.4" width="1.3" height="1.3" fill="#9a9a9a"/><rect x="177.6" y="546.9" width="1.3" height="1.3" fill="#9a9a9a"/><rect x="212.3" y="551.0" width="1.3" height="1.3" fill="#9a9a9a"/><rect x="207.9" y="549.7" width="1.3" height="1.3" fill="#3a3a3a"/><rect x="155.0" y="552.1" width="1.3" height="1.3" fill="#4a4a4a"/><rect x="333.9" y="545.8" width="1.3" height="1.3" fill="#4a4a4a"/><rect x="155.7" y="549.2" width="1.3" height="1.3" fill="#9a9a9a"/><rect x="80.1" y="550.8" width="1.3" height="1.3" fill="#5a5a5a"/><rect x="214.5" y="545.9" width="1.3" height="1.3" fill="#9a9a9a"/><rect x="289.1" y="550.8" width="1.3" height="1.3" fill="#5a5a5a"/><rect x="110.6" y="548.7" width="1.3" height="1.3" fill="#9a9a9a"/><rect x="200.3" y="547.0" width="1.3" height="1.3" fill="#9a9a9a"/><rect x="295.3" y="550.5" width="1.3" height="1.3" fill="#9a9a9a"/><rect x="359.9" y="551.7" width="1.3" height="1.3" fill="#5a5a5a"/><rect x="349.0" y="548.6" width="1.3" height="1.3" fill="#9a9a9a"/><rect x="209.3" y="552.6" width="1.3" height="1.3" fill="#4a4a4a"/><rect x="175.2" y="551.6" width="1.3" height="1.3" fill="#5a5a5a"/><rect x="76.8" y="548.2" width="1.3" height="1.3" fill="#5a5a5a"/><rect x="308.5" y="547.7" width="1.3" height="1.3" fill="#4a4a4a"/><rect x="345.2" y="549.2" width="1.3" height="1.3" fill="#3a3a3a"/><rect x="107.2" y="549.3" width="1.3" height="1.3" fill="#3a3a3a"/><rect x="117.4" y="546.0" width="1.3" height="1.3" fill="#4a4a4a"/><rect x="361.1" y="551.2" width="1.3" height="1.3" fill="#5a5a5a"/><rect x="359.8" y="551.1" width="1.3" height="1.3" fill="#3a3a3a"/><rect x="214.1" y="547.3" width="1.3" height="1.3" fill="#5a5a5a"/><rect x="196.8" y="548.0" width="1.3" height="1.3" fill="#3a3a3a"/><rect x="247.8" y="551.3" width="1.3" height="1.3" fill="#9a9a9a"/><rect x="160.9" y="547.3" width="1.3" height="1.3" fill="#9a9a9a"/><rect x="192.6" y="547.4" width="1.3" height="1.3" fill="#3a3a3a"/><rect x="76.7" y="545.9" width="1.3" height="1.3" fill="#4a4a4a"/><rect x="339.9" y="551.3" width="1.3" height="1.3" fill="#4a4a4a"/><rect x="352.2" y="550.8" width="1.3" height="1.3" fill="#9a9a9a"/><rect x="219.6" y="551.4" width="1.3" height="1.3" fill="#4a4a4a"/><rect x="151.3" y="546.8" width="1.3" height="1.3" fill="#3a3a3a"/><rect x="212.8" y="546.0" width="1.3" height="1.3" fill="#9a9a9a"/><rect x="207.3" y="550.3" width="1.3" height="1.3" fill="#9a9a9a"/><rect x="178.6" y="550.0" width="1.3" height="1.3" fill="#5a5a5a"/><rect x="122.5" y="550.4" width="1.3" height="1.3" fill="#3a3a3a"/><rect x="189.6" y="548.1" width="1.3" height="1.3" fill="#9a9a9a"/><rect x="151.0" y="547.4" width="1.3" height="1.3" fill="#5a5a5a"/>
<path d="M65.00 549.10H74.00M65.90 544.90L73.10 553.30M65.90 553.30L73.10 544.90" stroke="#666" stroke-width="1.8"/>
<path d="M371.3 543.90L377 549.10L371.3 554.30L365.6 549.10Z" fill="#fff" stroke="#555" stroke-width="1.9"/>
<circle cx="373.8" cy="549.70" r="1.1" fill="#111"/><circle cx="369.4" cy="549.70" r="1" fill="#111"/><path d="M374.6 552.20V555.10" stroke="#111" stroke-width="1.8"/>
<path d="M114.6 239.6L118.5 235.4L122.2 239.6" stroke="#151515" stroke-width="2" fill="#666" stroke-linejoin="miter"/>
</svg>
</body></html>
